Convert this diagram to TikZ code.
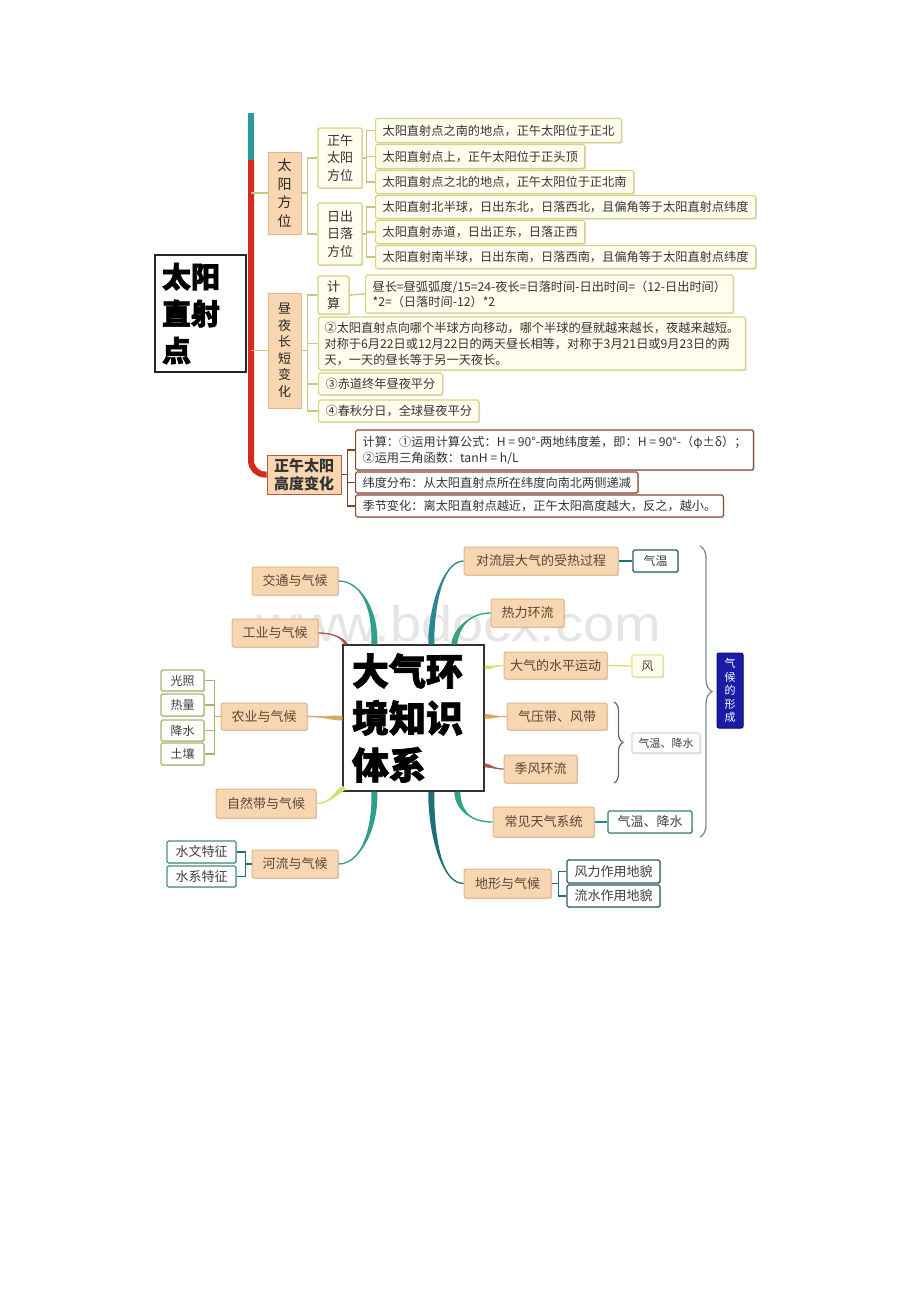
\documentclass[tikz,border=0pt]{standalone}
\usepackage{fontspec}
\newfontfamily\cjk{Noto Sans CJK SC}
\newfontfamily\cjkheavy[FakeBold=2]{Noto Sans CJK SC}
\newfontfamily\wmfont{Liberation Sans}
\usetikzlibrary{calc,decorations.pathreplacing,shadows}
\definecolor{peach}{HTML}{F9D6B2}
\definecolor{peachbd}{HTML}{E0B68A}
\definecolor{cream}{HTML}{FFFEEE}
\definecolor{olivebd}{HTML}{D2D682}
\definecolor{oliveln}{HTML}{C8C97C}
\definecolor{barred}{HTML}{D42A1E}
\definecolor{barteal}{HTML}{2A9C98}
\definecolor{brownbd}{HTML}{8A4636}
\definecolor{brownln}{HTML}{7A4232}
\definecolor{lcbd}{HTML}{B0603E}
\definecolor{pntext}{HTML}{5A4535}
\definecolor{navy}{HTML}{1A1CA6}
\definecolor{navybd}{HTML}{0C0E70}
\definecolor{tealA}{HTML}{2F9E8B}
\definecolor{redB}{HTML}{A85A4C}
\definecolor{tanC}{HTML}{D4AD62}
\definecolor{ygD}{HTML}{D6DF6A}
\definecolor{tealE}{HTML}{2A8690}
\definecolor{tealE2}{HTML}{1F6E78}
\definecolor{grnF}{HTML}{35A27E}
\definecolor{olive2}{HTML}{A9B56E}
\definecolor{tealbd}{HTML}{3F8F8C}
\definecolor{dtealbd}{HTML}{2F5D63}
\definecolor{yelbd}{HTML}{E3E394}
\definecolor{bracecol}{HTML}{7B8D9A}
\definecolor{sbracecol}{HTML}{5F6A72}
\newcommand\brnch[6]{%
  \fill[#1] (#2) .. controls (#3) and ($(#4)+(#6)$) .. ($(#5)+(#6)$) -- ($(#5)-(#6)$) .. controls ($(#4)-(#6)$) and (#3) .. (#2) -- cycle;
  \draw[#1, line width=1.3pt] (#2) .. controls (#3) and (#4) .. (#5);}
\begin{document}
\begin{tikzpicture}[x=1pt,y=-1pt,
  every node/.style={inner sep=0pt},
  shd/.style={drop shadow={shadow xshift=1.2pt, shadow yshift=-1.2pt, fill=black, opacity=0.15}},
  mainbox/.style={draw=black!85, fill=white, line width=1.5pt, minimum height=117pt, text width=77pt, inner xsep=7pt, align=left, font=\cjkheavy\bfseries\fontsize{29}{37}\selectfont, text=black},
  lone/.style={shd, draw=peachbd, fill=peach, line width=1pt, align=center, text=black!85},
  vbox/.style={shd, draw=olivebd, fill=cream, line width=1.1pt, rounded corners=1.5pt, align=center, font=\cjk\fontsize{13}{17.5}\selectfont, text=black!80},
  lf/.style={shd, draw=olivebd, fill=cream, line width=1.1pt, rounded corners=1.5pt, anchor=west, inner xsep=7pt, align=left, font=\cjk\fontsize{12.2}{16}\selectfont, text=black!80},
  lfb/.style={lf, draw=brownbd, fill=white},
  oliv/.style={draw=oliveln, line width=1.3pt},
  brnl/.style={draw=brownln, line width=1.3pt},
  pn/.style={shd, draw=peachbd, fill=peach, line width=1pt, rounded corners=2pt, font=\cjk\fontsize{13}{15}\selectfont, text=pntext, minimum height=28pt},
  sl/.style={shd, fill=white, line width=1.1pt, rounded corners=1.5pt, font=\cjk\fontsize{12}{14}\selectfont, text=black!75, minimum height=21pt},
  wbox/.style={draw=black!80, fill=white, line width=1.5pt, minimum height=146pt, text width=123pt, inner xsep=9pt, align=left, font=\cjkheavy\bfseries\fontsize{37}{47}\selectfont, text=black}
]
\fill[white] (0,0) rectangle (920,1302);
\useasboundingbox (0,0) rectangle (920,1302);

% ================= TOP DIAGRAM =================
\coordinate (bt) at (251,113);
\coordinate (bm) at (251,160);
\node[mainbox] (M) at (200.5,313.5) {太阳\\直射\\点};

\node[lone, minimum width=33pt, minimum height=82pt, font=\cjk\fontsize{14}{18.5}\selectfont] (A) at (284.5,193) {太\\阳\\方\\位};
\node[lone, minimum width=33pt, minimum height=115pt, font=\cjk\fontsize{13}{16.5}\selectfont] (B) at (284.5,350.5) {昼\\夜\\长\\短\\变\\化};
\node[lone, draw=lcbd, minimum width=74pt, minimum height=39pt, font=\cjk\bfseries\fontsize{15}{18}\selectfont, text=black!80] (Cc) at (304,474.5) {正午太阳\\高度变化};

\draw[barteal, line width=6pt] (bt) -- (bm);
\draw[barred, line width=6pt, rounded corners=14pt] (bm) -- (bm |- Cc.west) -- (Cc.west);
\draw[oliv] (bm |- A.west) -- (A.west);
\draw[oliv] (bm |- B.west) -- (B.west);

% 太阳方位
\node[vbox, minimum width=44pt, minimum height=60pt] (A1) at (340,158) {正午\\太阳\\方位};
\node[vbox, minimum width=44pt, minimum height=62pt] (A2) at (340,234) {日出\\日落\\方位};
\node[lf, minimum height=24pt] (a1) at (375,130.5) {太阳直射点之南的地点，正午太阳位于正北};
\node[lf, minimum height=24pt] (a2) at (375,156.5) {太阳直射点上，正午太阳位于正头顶};
\node[lf, minimum height=23pt] (a3) at (375,182) {太阳直射点之北的地点，正午太阳位于正北南};
\node[lf, minimum height=23pt] (a4) at (375,207) {太阳直射北半球，日出东北，日落西北，且偏角等于太阳直射点纬度};
\node[lf, minimum height=23pt] (a5) at (375,232) {太阳直射赤道，日出正东，日落正西};
\node[lf, minimum height=23pt] (a6) at (375,257) {太阳直射南半球，日出东南，日落西南，且偏角等于太阳直射点纬度};

\draw[oliv] (A.east) -- ++(6,0) coordinate (Ab);
\draw[oliv] (A1.west) -| (Ab);
\draw[oliv] (A2.west) -| (Ab);
\draw[oliv] (A1.east) -- ++(4,0) coordinate (A1b);
\draw[oliv] (a1.west) -| (A1b);
\draw[oliv] (a2.west) -| (A1b);
\draw[oliv] (a3.west) -| (A1b);
\draw[oliv] (A2.east) -- ++(4,0) coordinate (A2b);
\draw[oliv] (a4.west) -| (A2b);
\draw[oliv] (a5.west) -| (A2b);
\draw[oliv] (a6.west) -| (A2b);

% 昼夜长短变化
\node[vbox, minimum width=31pt, minimum height=38pt] (B1) at (333.5,295) {计\\算};
\node[lf, minimum height=38pt, font=\cjk\fontsize{12.2}{15}\selectfont] (B1f) at (365,294) {昼长=昼弧弧度/15=24-夜长=日落时间-日出时间=（12-日出时间）\\*2=（日落时间-12）*2};
\node[lf, minimum height=53pt, inner xsep=6pt] (B2) at (318,343.5) {②太阳直射点向哪个半球方向移动，哪个半球的昼就越来越长，夜越来越短。\\对称于6月22日或12月22日的两天昼长相等，对称于3月21日或9月23日的两\\天，一天的昼长等于另一天夜长。};
\node[lf, minimum height=22pt] (B3) at (318,384) {③赤道终年昼夜平分};
\node[lf, minimum height=22pt] (B4) at (318,411) {④春秋分日，全球昼夜平分};

\draw[oliv] (B.east) -- ++(6,0) coordinate (Bb);
\draw[oliv] (B1.west) -| (Bb);
\draw[oliv] (B2.west) -| (Bb);
\draw[oliv] (B3.west) -| (Bb);
\draw[oliv] (B4.west) -| (Bb);
\draw[oliv] (B1.east) -- (B1f.west);

% 正午太阳高度变化
\node[lfb, minimum height=40pt, font=\cjk\fontsize{12.2}{16}\selectfont] (C1) at (355,450) {计算：①运用计算公式：H = 90°-两地纬度差，即：H = 90°-（φ±δ）；\\②运用三角函数：tanH = h/L};
\node[lfb, minimum height=21pt] (C2) at (355,482.5) {纬度分布：从太阳直射点所在纬度向南北两侧递减};
\node[lfb, minimum height=22pt] (C3) at (355,506) {季节变化：离太阳直射点越近，正午太阳高度越大，反之，越小。};
\draw[brnl] (Cc.east) -- ++(6,0) coordinate (Cb);
\draw[brnl] (C1.west) -| (Cb);
\draw[brnl] (C2.west) -| (Cb);
\draw[brnl] (C3.west) -| (Cb);

% ================= BOTTOM DIAGRAM =================
\node[font=\wmfont\fontsize{50}{50}\selectfont, text=black!10, anchor=base] (wm) at (459,641) {\scalebox{1.12}[1]{www.bdocx.com}};

\node[wbox] (W) at (413.5,718) {大气环\\境知识\\体系};

\node[pn, minimum width=86pt] (n1) at (295,581) {交通与气候};
\node[pn, minimum width=86pt] (n2) at (275,633) {工业与气候};
\node[pn, minimum width=86pt, minimum height=27pt] (n3) at (264,716.5) {农业与气候};
\node[pn, minimum width=100pt, minimum height=29pt] (n4) at (266,803.5) {自然带与气候};
\node[pn, minimum width=86pt] (n5) at (295,864) {河流与气候};

\node[pn, minimum width=154pt] (r1) at (541,561) {对流层大气的受热过程};
\node[pn, minimum width=73pt] (r2) at (527.5,613) {热力环流};
\node[pn, minimum width=103pt, minimum height=27pt] (r3) at (555.5,665.5) {大气的水平运动};
\node[pn, minimum width=100pt, minimum height=27pt] (r4) at (557,716.5) {气压带、风带};
\node[pn, minimum width=73pt] (r5) at (540.5,769) {季风环流};
\node[pn, minimum width=101pt, minimum height=30pt] (r6) at (543.5,822) {常见天气系统};
\node[pn, minimum width=87pt, minimum height=29pt] (r7) at (507.5,883.5) {地形与气候};

\node[sl, draw=olive2, minimum width=43pt] (g1) at (182.5,680.5) {光照};
\node[sl, draw=olive2, minimum width=43pt, minimum height=22pt] (g2) at (182.5,705) {热量};
\node[sl, draw=olive2, minimum width=43pt] (g3) at (182.5,730.5) {降水};
\node[sl, draw=olive2, minimum width=43pt, minimum height=22pt] (g4) at (182.5,754) {土壤};
\node[sl, draw=tealbd, minimum width=69pt, minimum height=22pt, font=\cjk\fontsize{13}{15}\selectfont] (h1) at (201.5,852) {水文特征};
\node[sl, draw=tealbd, minimum width=69pt, font=\cjk\fontsize{13}{15}\selectfont] (h2) at (201.5,876.5) {水系特征};

\node[sl, draw=dtealbd, minimum width=45pt, minimum height=22pt] (t1) at (655.5,561) {气温};
\node[sl, draw=yelbd, fill=cream, minimum width=31pt, minimum height=22pt] (t2) at (647.5,666) {风};
\node[sl, draw=black!15, minimum width=68pt, minimum height=20pt, font=\cjk\fontsize{11}{13}\selectfont] (t3) at (666,743) {气温、降水};
\node[sl, draw=tealbd!90!black, minimum width=84pt, minimum height=22pt, font=\cjk\fontsize{13}{15}\selectfont] (t4) at (650,822) {气温、降水};
\node[sl, draw=dtealbd, minimum width=93pt, minimum height=23pt, font=\cjk\fontsize{13}{15}\selectfont] (k1) at (613.5,871.5) {风力作用地貌};
\node[sl, draw=dtealbd, minimum width=93pt, minimum height=22pt, font=\cjk\fontsize{13}{15}\selectfont] (k2) at (613.5,896) {流水作用地貌};

\node[shd, draw=navybd, fill=navy, line width=1pt, rounded corners=2pt, minimum width=26pt, minimum height=75pt, align=center, text=white, font=\cjk\fontsize{11}{13.5}\selectfont] (Q) at (730,690.5) {气\\候\\的\\形\\成};

% branch end points on the centre box
\coordinate (e1) at ($(W.north west)+(32,0)$);
\coordinate (e2) at ($(W.north west)+(4,0)$);
\coordinate (e3) at (W.west);
\coordinate (e4) at ($(W.south west)+(2,-4)$);
\coordinate (e5) at ($(W.south west)+(32,0)$);
\coordinate (f1) at ($(W.north west)+(89,0)$);
\coordinate (f2) at ($(W.north west)+(112,0)$);
\coordinate (f3) at ($(W.north east)+(0,23)$);
\coordinate (f4) at ($(W.north east)+(0,72)$);
\coordinate (f5) at ($(W.north east)+(0,121)$);
\coordinate (f6) at ($(W.south west)+(115,0)$);
\coordinate (f7) at ($(W.south west)+(89,0)$);

\brnch{tealA}{n1.east}{362,581}{376,612}{e1}{3,0}
\brnch{redB}{n2.east}{332,633}{342,637}{e2}{2,0}
\brnch{tanC}{n3.east}{322,716.5}{330,718}{e3}{0,2.5}
\brnch{ygD}{n4.east}{330,803.5}{336,792}{e4}{1.5,2}
\brnch{tealA}{n5.east}{362,864}{376,825}{e5}{3,0}
\brnch{tealE}{r1.west}{442,561}{431,610}{f1}{3,0}
\brnch{grnF}{r2.west}{470,613}{456,628}{f2}{3,0}
\brnch{ygD}{r3.west}{495,665.5}{492,668}{f3}{0,2}
\brnch{tanC}{r4.west}{497,716.5}{492,717}{f4}{0,2.5}
\brnch{redB}{r5.west}{494,769}{492,766}{f5}{0,2}
\brnch{grnF}{r6.west}{470,822}{458,810}{f6}{3,0}
\brnch{tealE2}{r7.west}{440,883.5}{431,830}{f7}{3,0}

\draw[tealE2, line width=1.3pt] (r1.east) -- (t1.west);
\draw[ygD, line width=1.3pt] (r3.east) -- (t2.west);
\draw[tealE, line width=1.3pt] (r6.east) -- (t4.west);

\draw[draw=olive2, line width=1.2pt] (n3.west) -- ++(-6,0) coordinate (n3b);
\draw[draw=olive2, line width=1.2pt] (g1.east) -| (n3b);
\draw[draw=olive2, line width=1.2pt] (g2.east) -| (n3b);
\draw[draw=olive2, line width=1.2pt] (g3.east) -| (n3b);
\draw[draw=olive2, line width=1.2pt] (g4.east) -| (n3b);
\draw[draw=tealE2, line width=1.2pt] (n5.west) -- ++(-6,0) coordinate (n5b);
\draw[draw=tealE2, line width=1.2pt] (h1.east) -| (n5b);
\draw[draw=tealE2, line width=1.2pt] (h2.east) -| (n5b);
\draw[draw=tealE2, line width=1.2pt] (r7.east) -- ++(7,0) coordinate (r7b);
\draw[draw=tealE2, line width=1.2pt] (k1.west) -| (r7b);
\draw[draw=tealE2, line width=1.2pt] (k2.west) -| (r7b);

\coordinate (bb1) at (700,546);
\coordinate (bb2) at (700,837);
\draw[bracecol, line width=1.3pt, decorate, decoration={brace, amplitude=12pt}] (bb1) -- (bb2);
\coordinate (sb1) at (614,702);
\coordinate (sb2) at (614,783);
\draw[sbracecol, line width=1.2pt, decorate, decoration={brace, amplitude=9pt}] (sb1) -- (sb2);
\end{tikzpicture}
\end{document}
